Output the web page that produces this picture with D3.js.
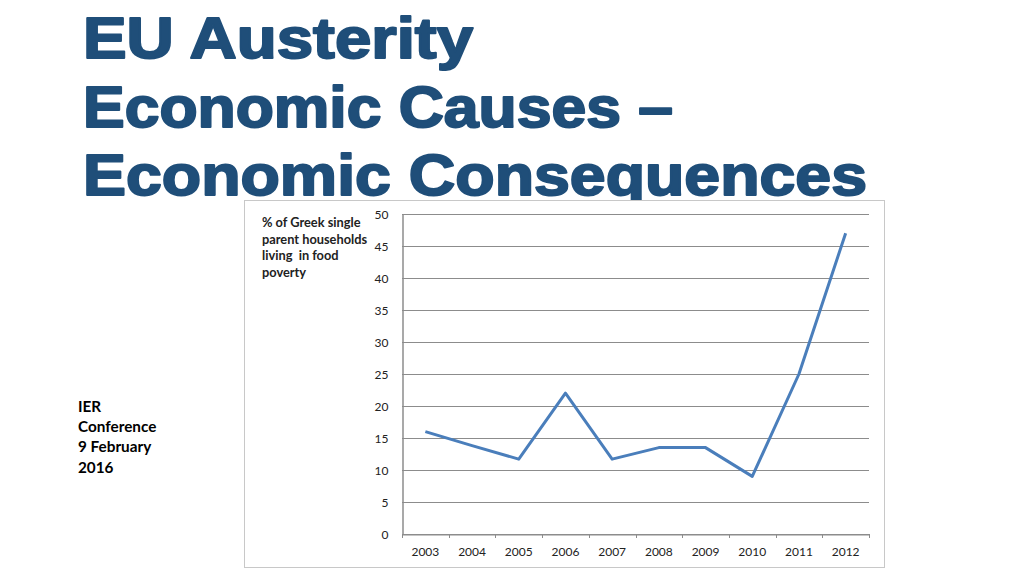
<!DOCTYPE html>
<html>
<head>
<meta charset="utf-8">
<script src="https://cdn.jsdelivr.net/npm/d3@7/dist/d3.min.js"></script>
<style>
  html, body { margin: 0; padding: 0; background: #fff; }
  svg { display: block; }
</style>
</head>
<body>
<svg id="chart" width="1024" height="576"></svg>
<script>
// ---- Data ----
const years = ["2003","2004","2005","2006","2007","2008","2009","2010","2011","2012"];
const poverty = [16, 13.8, 11.7, 22, 11.7, 13.5, 13.5, 9, 25, 47];
const yTicks = [0, 5, 10, 15, 20, 25, 30, 35, 40, 45, 50];
const titleLines = ["EU Austerity", "Economic Causes –", "Economic Consequences"];
const chartLabelLines = ["% of Greek single", "parent households", "living  in food", "poverty"];
const sideLines = ["IER", "Conference", "9 February", "2016"];

const svg = d3.select("#chart");
const titleColor = "#1f4e79";

// ---- Slide title ----
const titleWidths = [390, 590, 784];
svg.append("g").selectAll("text").data(titleLines).join("text")
  .attr("x", 83)
  .attr("y", (d, i) => 58 + i * 68.5)
  .attr("font-family", "Liberation Sans, Arial, sans-serif")
  .attr("font-weight", "bold")
  .attr("font-size", 57)
  .attr("fill", titleColor)
  .attr("stroke", titleColor)
  .attr("stroke-width", 2)
  .attr("stroke-linejoin", "round")
  .attr("textLength", (d, i) => titleWidths[i])
  .attr("lengthAdjust", "spacingAndGlyphs")
  .text(d => d);

// ---- Side text ----
svg.append("g").selectAll("text").data(sideLines).join("text")
  .attr("x", 78)
  .attr("y", (d, i) => 412 + i * 20.2)
  .attr("font-family", "Lato, sans-serif")
  .attr("font-weight", "bold")
  .attr("font-size", 15.3)
  .attr("fill", "#000")
  .text(d => d);

// ---- Chart frame ----
svg.append("rect")
  .attr("x", 244.5).attr("y", 200.5)
  .attr("width", 640).attr("height", 367)
  .attr("fill", "#fff")
  .attr("stroke", "#c8c8c8")
  .attr("stroke-width", 1);

// ---- Scales ----
const plotLeft = 402, plotRight = 869, plotTop = 214, plotBottom = 534;
const x = d3.scaleBand().domain(years).range([plotLeft, plotRight]).padding(0);
const y = d3.scaleLinear().domain([0, 50]).range([plotBottom, plotTop]);

// ---- Gridlines ----
svg.append("g").selectAll("line").data(yTicks).join("line")
  .attr("x1", plotLeft).attr("x2", plotRight)
  .attr("y1", d => Math.round(y(d)) + 0.5).attr("y2", d => Math.round(y(d)) + 0.5)
  .attr("stroke", "#8c8c8c").attr("stroke-width", 1);

// ---- Y axis ----
const yAxis = svg.append("g")
  .attr("transform", `translate(${plotLeft + 0.5},0.5)`)
  .call(d3.axisLeft(y).tickValues(yTicks).tickSize(0).tickPadding(14));
yAxis.select(".domain").attr("stroke", "#8c8c8c").attr("stroke-width", 1.5);
yAxis.selectAll("text")
  .attr("font-family", "Lato, sans-serif")
  .attr("font-size", 12)
  .attr("fill", "#222");

// ---- X axis ----
const xAxis = svg.append("g")
  .attr("transform", `translate(0,${plotBottom + 0.5})`)
  .call(d3.axisBottom(x).tickSize(0).tickPadding(13));
xAxis.select(".domain").attr("stroke", "#8c8c8c").attr("stroke-width", 1);
xAxis.selectAll("text")
  .attr("font-family", "Lato, sans-serif")
  .attr("font-size", 12)
  .attr("fill", "#222");
// tick marks at band boundaries
const boundaries = years.map(d => x(d)).concat([x(years[years.length - 1]) + x.bandwidth()]);
svg.append("g").selectAll("line").data(boundaries).join("line")
  .attr("x1", d => Math.round(d) + 0.5).attr("x2", d => Math.round(d) + 0.5)
  .attr("y1", plotBottom).attr("y2", plotBottom + 4)
  .attr("stroke", "#8c8c8c").attr("stroke-width", 1);

// ---- Line ----
const line = d3.line()
  .x((d, i) => x(years[i]) + x.bandwidth() / 2)
  .y(d => y(d));
svg.append("path")
  .datum(poverty)
  .attr("d", line)
  .attr("fill", "none")
  .attr("stroke", "#4a7ebb")
  .attr("stroke-width", 3)
  .attr("stroke-linejoin", "round");

// ---- Chart label ----
svg.append("g").selectAll("text").data(chartLabelLines).join("text")
  .attr("x", 262)
  .attr("y", (d, i) => 227 + i * 16.5)
  .attr("font-family", "Lato, sans-serif")
  .attr("font-weight", "bold")
  .attr("font-size", 12.8)
  .attr("fill", "#222")
  .attr("xml:space", "preserve")
  .style("white-space", "pre")
  .text(d => d);
</script>
</body>
</html>
